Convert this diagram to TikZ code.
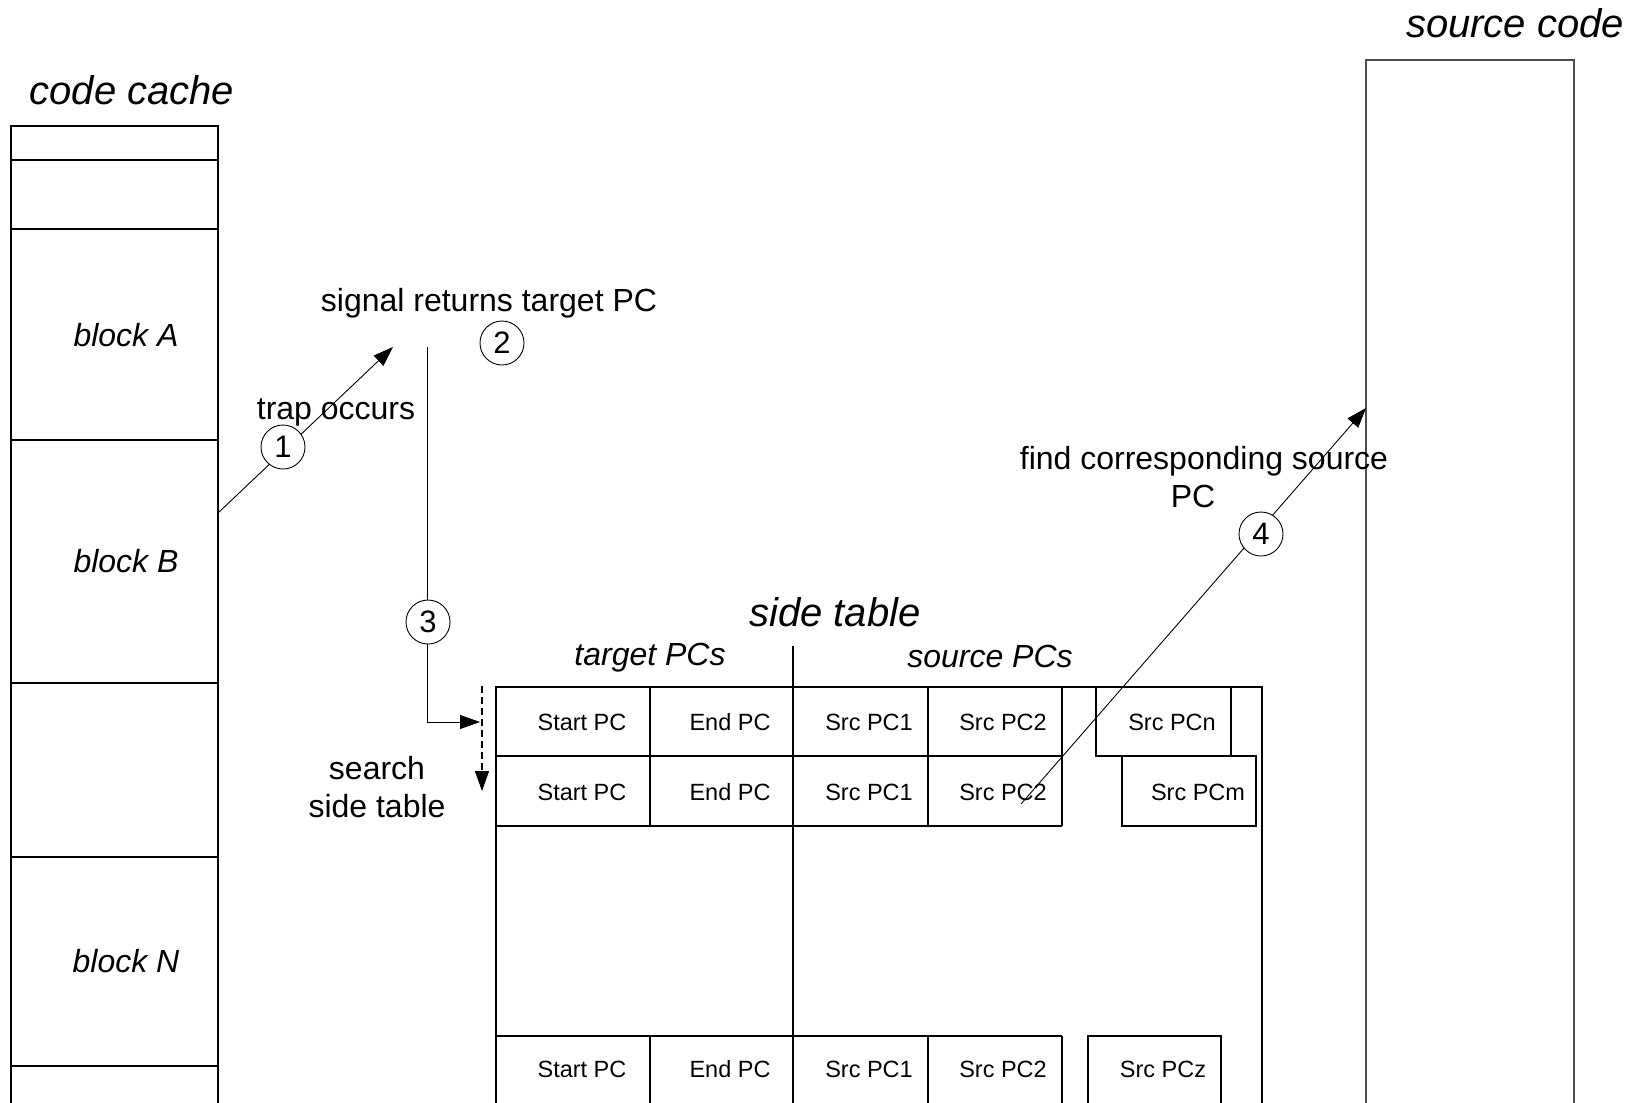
\documentclass[tikz,border=0pt]{standalone}
\usepackage{fontspec}
\setmainfont{Liberation Sans}
\usetikzlibrary{arrows.meta}
\begin{document}
\begin{tikzpicture}[x=1pt,y=-1pt,
  box/.style={line width=1.1pt, draw=black},
  greybox/.style={line width=1.1pt, draw=black!70},
  arr/.style={line width=0.9pt, -{Triangle[length=20pt,width=14pt]}},
  lbl/.style={font=\fontsize{32}{38}\selectfont, inner sep=0pt, align=center},
  ttl/.style={font=\fontsize{40}{48}\selectfont\itshape, inner sep=0pt},
  blk/.style={font=\fontsize{32}{38}\selectfont\itshape, inner sep=0pt},
  cell/.style={font=\fontsize{23.5}{28}\selectfont, inner sep=0pt},
  stepnum/.style={circle, draw, line width=0.9pt, fill=white, minimum size=44pt,
    inner sep=0pt, font=\fontsize{31}{36}\selectfont}]
\useasboundingbox[fill=white] (0,0) rectangle (1642,1103);

% ---- code cache column ----
\draw[box] (11,1103) -- (11,126) -- (218,126) -- (218,1103);
\draw[line width=1.6pt] (218,126) -- (218,160);
\foreach \y in {160,229,440,683,857,1066}
  \draw[box] (11,\y) -- (218,\y);
\node[ttl] (cachettl) at (132,90) {code cache};
\node[blk] (blkA) at (126,335) {block A};
\node[blk] (blkB) at (126,561) {block B};
\node[blk] (blkN) at (126,961) {block N};

% ---- source code column ----
\draw[greybox] (1366,1103) -- (1366,60) -- (1574,60) -- (1574,1103);
\node[ttl] (srcttl) at (1515,23) {source code};

% ---- side table ----
\draw[box] (496,1103) -- (496,687) -- (1262,687) -- (1262,1103);
\draw[box] (793,646) -- (793,1103);
\draw[box] (496,756) -- (1062,756);
\draw[box] (496,826) -- (1062,826);
\foreach \x in {650,928,1062}
  \draw[box] (\x,687) -- (\x,826);
\draw[box] (1096,687) rectangle (1231,756);
\draw[box] (1122,756) rectangle (1256,826);
\draw[box] (496,1036) -- (1062,1036);
\foreach \x in {650,928,1062}
  \draw[box] (\x,1036) -- (\x,1103);
\draw[box] (1088,1103) -- (1088,1036) -- (1221,1036) -- (1221,1103);

\node[ttl] (sidettl) at (835,612) {side table};
\node[blk] (tgthdr) at (650,658) {target PCs};
\node[blk] (srchdr) at (990,656) {source PCs};

\foreach \r/\y in {a/722,b/792,z/1069} {
  \node[cell] (start\r) at (582,\y) {Start PC};
  \node[cell] (end\r) at (730,\y) {End PC};
  \node[cell] (one\r) at (869,\y) {Src PC1};
  \node[cell] (two\r) at (1003,\y) {Src PC2};
}
\node[cell] (pcn) at (1172,722) {Src PCn};
\node[cell] (pcm) at (1198,792) {Src PCm};
\node[cell] (pcz) at (1163,1069) {Src PCz};

% ---- step 1: trap ----
\coordinate (trapfrom) at (218,513);
\coordinate (trapto) at (393,347);
\draw[arr] (trapfrom) -- (trapto);
\node[lbl] (traptxt) at (336,412) {trap occurs};
\node[stepnum] (s1) at (283,447) {1};

% ---- step 2: signal ----
\node[lbl] (sigtxt) at (489,303) {signal returns target PC};
\node[stepnum] (s2) at (502,343) {2};

% ---- step 3: search ----
\coordinate (sigout) at (427,347);
\coordinate (rowone) at (480,722);
\draw[line width=0.9pt] (sigout) -- (427,722);
\draw[arr] (427,722) -- (rowone);
\node[stepnum] (s3) at (428,622) {3};
\coordinate (scantop) at (482,686);
\coordinate (scanbot) at (482,791);
\draw[line width=1.1pt, dashed, dash pattern=on 7pt off 4pt,
  -{Triangle[length=20pt,width=14pt]}] (scantop) -- (scanbot);
\node[lbl] (searchtxt) at (377,787) {search\\side table};

% ---- step 4: map back ----
\coordinate (pcfrom) at (1021,804);
\coordinate (pcto) at (1366,408);
\draw[arr] (pcfrom) -- (pcto);
\node[lbl] (findtxt) at (1204,477) {find corresponding source\\\hspace*{-22pt}PC};
\node[stepnum] (s4) at (1261,534) {4};
\end{tikzpicture}
\end{document}
